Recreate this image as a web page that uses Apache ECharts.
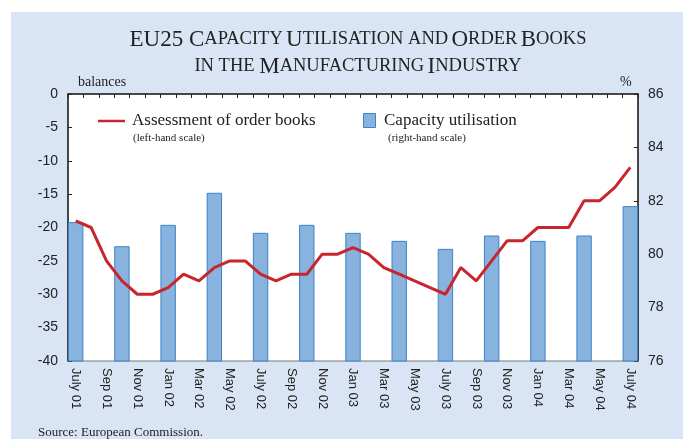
<!DOCTYPE html>
<html>
<head>
<meta charset="utf-8">
<script src="https://cdn.jsdelivr.net/npm/echarts@6/dist/echarts.min.js"></script>
<style>
html,body{margin:0;padding:0;background:#fff;}
#main{width:688px;height:439px;}
</style>
</head>
<body>
<div id="main"></div>
<script>
var months = ['July 01','Aug 01','Sep 01','Oct 01','Nov 01','Dec 01',
	'Jan 02','Feb 02','Mar 02','Apr 02','May 02','Jun 02','July 02','Aug 02','Sep 02','Oct 02','Nov 02','Dec 02',
	'Jan 03','Feb 03','Mar 03','Apr 03','May 03','Jun 03','July 03','Aug 03','Sep 03','Oct 03','Nov 03','Dec 03',
	'Jan 04','Feb 04','Mar 04','Apr 04','May 04','Jun 04','July 04'];
// balances, left-hand scale
var orderBooks = [-19,-20,-25,-28,-30,-30,
	-29,-27,-28,-26,-25,-25,-27,-28,-27,-27,-24,-24,
	-23,-24,-26,-27,-28,-29,-30,-26,-28,-25,-22,-22,
	-20,-20,-20,-16,-16,-14,-11];
// %, right-hand scale, quarterly
var capacityMonths = ['July 01','Oct 01','Jan 02','Apr 02','July 02','Oct 02','Jan 03','Apr 03','July 03','Oct 03','Jan 04','Apr 04','July 04'];
var capacity = [81.2,80.3,81.1,82.3,80.8,81.1,80.8,80.5,80.2,80.7,80.5,80.7,81.8];
var leftTicks = {min:-40, max:0, interval:5};
var rightTicks = {min:76, max:86, interval:2};

var capacityData = months.map(function(m){
	var i = capacityMonths.indexOf(m);
	return i >= 0 ? capacity[i] : '-';
});

var serif = '"Liberation Serif","DejaVu Serif",serif';
var sans = '"Liberation Sans",Arial,sans-serif';

var myChart = echarts.init(document.getElementById('main'));
var option = {
	backgroundColor: '#fff',
	animation: false,
	graphic: [
		{type:'rect', z:-10, shape:{x:11, y:12, width:672, height:427}, style:{fill:'#d9e5f5'}},
		{type:'text', x:358, y:26, style:{
			text:'{a|EU25 C}{b|APACITY} {a|U}{b|TILISATION AND} {a|O}{b|RDER} {a|B}{b|OOKS}\n{b|IN THE }{a|M}{b|ANUFACTURING} {a|I}{b|NDUSTRY}',
			align:'center', verticalAlign:'top', fill:'#222', lineHeight:27,
			rich:{
				a:{fontFamily:serif, fontSize:23, lineHeight:27, fill:'#222'},
				b:{fontFamily:serif, fontSize:18.5, lineHeight:27, fill:'#222'}
			}
		}},
		{type:'text', x:78, y:82, style:{text:'balances', font:'14px '+serif, fill:'#222', verticalAlign:'middle'}},
		{type:'text', x:620, y:82, style:{text:'%', font:'14px '+serif, fill:'#222', verticalAlign:'middle'}},
		// legend
		{type:'line', shape:{x1:98, y1:121, x2:125, y2:121}, style:{stroke:'#c8262d', lineWidth:2.5}},
		{type:'text', x:132, y:121, style:{text:'Assessment of order books', font:'17px '+serif, fill:'#222', verticalAlign:'middle'}},
		{type:'text', x:133, y:138, style:{text:'(left-hand scale)', font:'11px '+serif, fill:'#222', verticalAlign:'middle'}},
		{type:'rect', shape:{x:363.5, y:113.5, width:12, height:14}, style:{fill:'#88b3de', stroke:'#3b84c6', lineWidth:1}},
		{type:'text', x:384, y:121, style:{text:'Capacity utilisation', font:'17px '+serif, fill:'#222', verticalAlign:'middle'}},
		{type:'text', x:388, y:138, style:{text:'(right-hand scale)', font:'11px '+serif, fill:'#222', verticalAlign:'middle'}},
		{type:'text', x:38, y:433, style:{text:'Source: European Commission.', font:'13px '+serif, fill:'#222', verticalAlign:'middle'}}
	],
	grid: {
		left: 68, right: 50, top: 94, bottom: 78,
		show: true, backgroundColor: '#fff', borderColor: '#777', borderWidth: 1
	},
	xAxis: {
		type: 'category',
		data: months,
		boundaryGap: true,
		axisLine: {lineStyle:{color:'#222', width:1.5}},
		axisTick: {show:true, interval:0, length:4, inside:false, lineStyle:{color:'#222'}},
		axisLabel: {interval:1, rotate:-90, margin:7, fontFamily:sans, fontSize:13, color:'#222'},
		splitLine: {show:false}
	},
	yAxis: [{
		type: 'value',
		min: leftTicks.min, max: leftTicks.max, interval: leftTicks.interval,
		axisLine: {show:true, lineStyle:{color:'#222', width:1.5}},
		axisTick: {show:true, inside:true, length:4, lineStyle:{color:'#222'}},
		axisLabel: {margin:10, fontFamily:sans, fontSize:14, color:'#222'},
		splitLine: {show:false}
	}, {
		type: 'value',
		min: rightTicks.min, max: rightTicks.max, interval: rightTicks.interval,
		axisLine: {show:true, lineStyle:{color:'#222', width:1.5}},
		axisTick: {show:true, inside:true, length:4, lineStyle:{color:'#222'}},
		axisLabel: {margin:10, fontFamily:sans, fontSize:14, color:'#222'},
		splitLine: {show:false}
	}],
	series: [{
		name: 'Capacity utilisation',
		type: 'bar',
		yAxisIndex: 1,
		barCategoryGap: '0%',
		itemStyle: {color:'#88b3de', borderColor:'#3b84c6', borderWidth:1},
		data: capacityData
	}, {
		name: 'Assessment of order books',
		type: 'line',
		yAxisIndex: 0,
		showSymbol: false,
		symbol: 'none',
		lineStyle: {color:'#c8262d', width:3},
		data: orderBooks,
		z: 5
	}]
};
myChart.setOption(option);
</script>
</body>
</html>
